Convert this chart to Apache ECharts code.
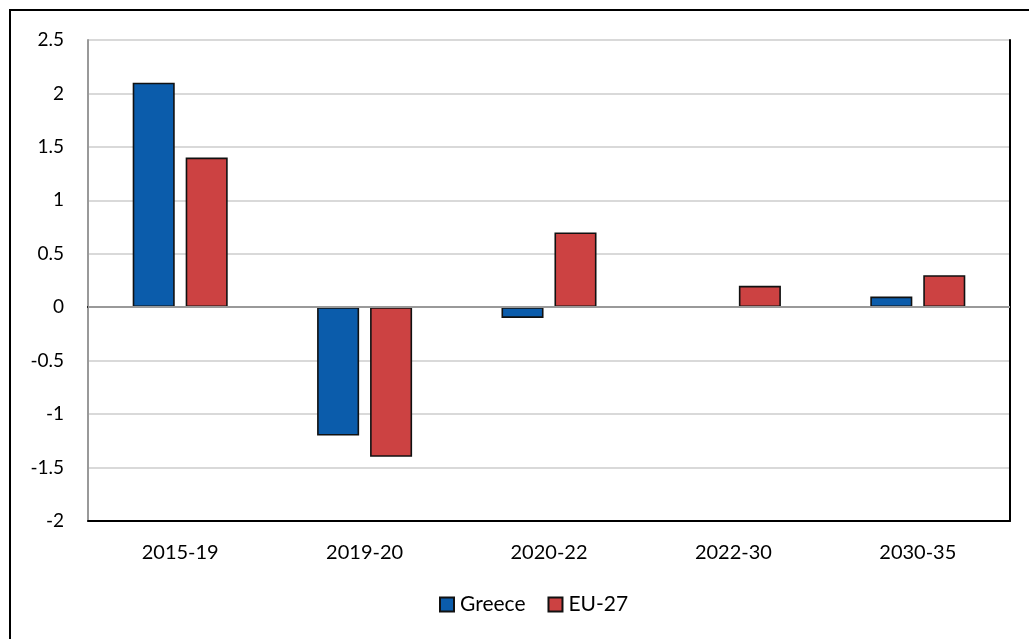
<!DOCTYPE html>
<html>
<head>
<meta charset="utf-8">
<script src="https://cdn.jsdelivr.net/npm/echarts@6/dist/echarts.min.js"></script>
<style>
  html, body { margin: 0; padding: 0; background: #fff; }
  #chart { width: 1029px; height: 639px; }
</style>
</head>
<body>
<div id="chart"></div>
<script>
// Periods on the category axis
const periods = ['2015-19', '2019-20', '2020-22', '2022-30', '2030-35'];
// Average annual change per period
const greece = [2.1, -1.2, -0.1, 0, 0.1];
const eu27 = [1.4, -1.4, 0.7, 0.2, 0.3];
// Value axis range
const yMin = -2;
const yMax = 2.5;
const yStep = 0.5;

const FONT = 'Lato, "Open Sans", sans-serif';

const chart = echarts.init(document.getElementById('chart'), null, { renderer: 'canvas' });

const barStyle = (color) => ({ color: color, borderColor: '#111', borderWidth: 1.6 });
// a zero value gets no outline, so no stub is drawn on the baseline
const asBars = (arr) => arr.map(v => v === 0 ? { value: v, itemStyle: { borderWidth: 0 } } : v);

const frameLine = { show: true, lineStyle: { color: '#000', width: 2 } };

chart.setOption({
  animation: false,
  backgroundColor: '#fff',
  textStyle: { fontFamily: FONT },
  graphic: [{
    type: 'rect', silent: true,
    shape: { x: 10, y: 10, width: 1200, height: 800 },
    style: { fill: 'none', stroke: '#000', lineWidth: 2 }
  }],
  grid: { left: 88, top: 40, right: 19, bottom: 118 },
  legend: {
    bottom: 19, left: 434,
    itemWidth: 14, itemHeight: 14, itemGap: 22,
    icon: 'rect',
    textStyle: { fontFamily: FONT, fontSize: 21, color: '#000', padding: [0, 0, 0, 1] },
    data: ['Greece', 'EU-27']
  },
  xAxis: [
    {
      type: 'category',
      data: periods,
      position: 'bottom',
      axisLine: { show: true, onZero: false, lineStyle: { color: '#000', width: 2 } },
      axisTick: { show: false },
      axisLabel: { fontFamily: FONT, fontSize: 20, color: '#000', margin: 22 }
    },
    {
      type: 'category',
      data: periods,
      position: 'top',
      axisLine: frameLine,
      axisTick: { show: false },
      axisLabel: { show: false }
    }
  ],
  yAxis: [
    {
      type: 'value',
      min: yMin, max: yMax, interval: yStep,
      position: 'left',
      axisLine: { show: true, onZero: false, lineStyle: { color: '#999', width: 2 } },
      axisTick: { show: false },
      splitLine: { lineStyle: { color: '#d9d9d9', width: 2 } },
      axisLabel: { fontFamily: FONT, fontSize: 19, color: '#000', margin: 24 }
    },
    {
      type: 'value',
      min: yMin, max: yMax, interval: yStep,
      position: 'right',
      axisLine: { show: true, onZero: false, lineStyle: { color: '#000', width: 2 } },
      axisTick: { show: false },
      splitLine: { show: false },
      axisLabel: { show: false }
    }
  ],
  series: [
    {
      name: 'Greece', type: 'bar', data: asBars(greece),
      barWidth: '22.8%', barGap: '26%',
      itemStyle: barStyle('#0B5CAB'),
      // baseline at zero, drawn over the bar feet
      markLine: {
        silent: true, symbol: 'none', z: 10,
        label: { show: false },
        lineStyle: { color: '#999', width: 2, type: 'solid' },
        data: [{ yAxis: 0 }]
      }
    },
    {
      name: 'EU-27', type: 'bar', data: asBars(eu27),
      barWidth: '22.8%',
      itemStyle: barStyle('#CC4242')
    }
  ]
});
</script>
</body>
</html>
